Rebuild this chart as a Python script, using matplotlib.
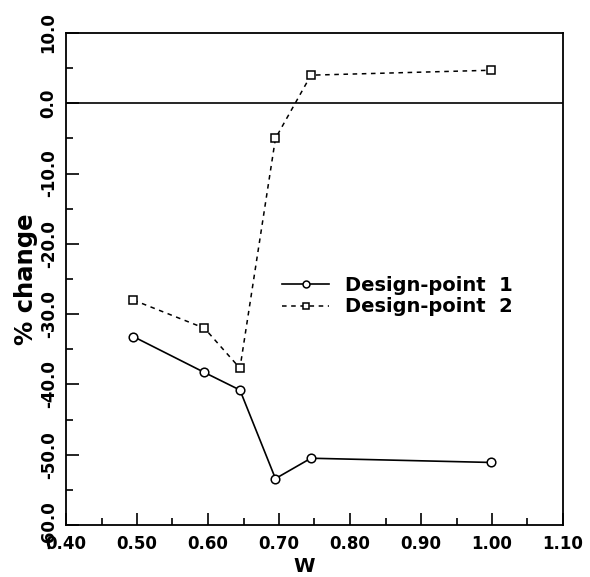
import matplotlib

matplotlib.use("Agg")
import matplotlib.pyplot as plt
from matplotlib.ticker import MultipleLocator, FormatStrFormatter

# values
w_values = [0.495, 0.595, 0.645, 0.695, 0.745, 0.998]
design_point_1 = [-33.2, -38.3, -40.8, -53.4, -50.5, -51.1]
design_point_2 = [-28.0, -32.0, -37.7, -5.0, 4.0, 4.7]
series_labels = ["Design-point  1", "Design-point  2"]

plt.rcParams["font.family"] = ["DejaVu Sans"]
plt.rcParams["font.weight"] = "bold"

fig = plt.figure(figsize=(5.9, 5.77), dpi=100)
ax = fig.add_axes([66 / 590, 1 - 525 / 577, (563 - 66) / 590, (525 - 33) / 577])

ax.axhline(0.0, color="black", linewidth=1.2)
line1, = ax.plot(w_values, design_point_1, "-", color="black", linewidth=1.2,
                 marker="o", markersize=6.2, markerfacecolor="white",
                 markeredgecolor="black", markeredgewidth=1.1, label=series_labels[0])
line2, = ax.plot(w_values, design_point_2, "--", color="black", linewidth=1.1,
                 dashes=(3, 3), marker="s", markersize=5.4, markerfacecolor="white",
                 markeredgecolor="black", markeredgewidth=1.1, label=series_labels[1])

ax.set_xlim(0.40, 1.10)
ax.set_ylim(-60, 10)
ax.xaxis.set_major_locator(MultipleLocator(0.10))
ax.xaxis.set_minor_locator(MultipleLocator(0.05))
ax.yaxis.set_major_locator(MultipleLocator(10))
ax.yaxis.set_minor_locator(MultipleLocator(5))
ax.xaxis.set_major_formatter(FormatStrFormatter("%.2f"))
ax.yaxis.set_major_formatter(FormatStrFormatter("%.1f"))

ax.tick_params(which="both", direction="in", top=False, right=False, width=1.2)
ax.tick_params(which="major", length=9)
ax.tick_params(which="minor", length=5)
ax.tick_params(axis="x", labelsize=12, pad=7)
ax.tick_params(axis="y", labelsize=12, pad=6)
for lab in ax.get_yticklabels():
    lab.set_rotation(90)
    lab.set_va("center")
for lab in ax.get_xticklabels() + ax.get_yticklabels():
    lab.set_fontweight("bold")
for spine in ax.spines.values():
    spine.set_linewidth(1.3)

ax.set_xlabel("W", fontsize=14, fontweight="bold", labelpad=5)
ax.xaxis.set_label_coords((304 - 66) / 497, -0.065)
ax.set_ylabel("% change", fontsize=17.5, fontweight="bold", labelpad=1)

leg = ax.legend(loc="center left", bbox_to_anchor=(0.435, 0.465), frameon=False,
                handlelength=2.4, handletextpad=0.85, labelspacing=0.12,
                borderpad=0, borderaxespad=0, markerscale=0.8,
                prop={"weight": "bold", "size": 14})

fig.savefig("out.png", dpi=100)
